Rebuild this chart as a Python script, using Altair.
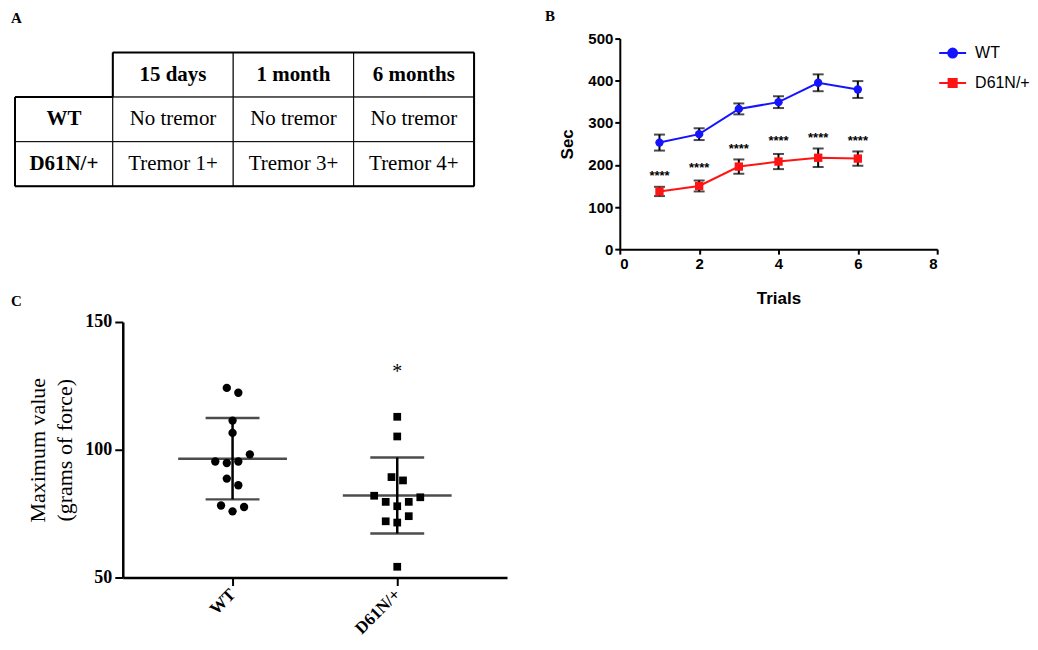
import json
import altair as alt
import pandas as pd

SERIF = "Liberation Serif"
SANS = "Liberation Sans"

# ---------------- Panel A: tremor table ----------------
timepoints = ["15 days", "1 month", "6 months"]
genotypes = ["WT", "D61N/+"]
tremor_wt = ["No tremor", "No tremor", "No tremor"]
tremor_mut = ["Tremor 1+", "Tremor 3+", "Tremor 4+"]

# ---------------- Panel B: rotarod ----------------
trials = [1, 2, 3, 4, 5, 6]
wt_sec = [253, 273, 333, 349, 395, 379]
wt_sem = [19, 14, 13, 14, 20, 20]
mut_sec = [137, 150, 196, 208, 217, 215]
mut_sem = [11, 13, 17, 18, 22, 17]
sig_text = ["****", "****", "****", "****", "****", "****"]
sig_sec = [180, 200, 245, 263, 272, 263]

# ---------------- Panel C: grip strength ----------------
force_groups = ["WT", "D61N/+"]
wt_force = [124.2, 122.3, 111.4, 106.6, 98.2, 95.4, 94.8, 95.4, 88.7, 86.1, 78.2, 77.6, 75.9]
wt_slot = [-0.5, 0.5, 0, 0, 1.5, -1.5, -0.5, 0.5, -0.5, 0.5, -1, 1, 0]
mut_force = [112.9, 105.2, 89.3, 88.0, 82.0, 81.4, 79.6, 79.6, 77.9, 74.0, 72.0, 71.5, 54.2]
mut_slot = [0, 0, -0.5, 0.5, -2, 2, -1, 1, 0, 1, -1, 0, 0]
sig_c_group = ["D61N/+"]
sig_c_label = ["*"]
sig_c_force = [132]

palette = {"WT": "#1414ff", "D61N/+": "#ff1414"}


def panel_title(text, dx, offset):
    return alt.TitleParams(text, anchor="start", frame="group", dx=dx, offset=offset,
                           font=SERIF, fontSize=15, fontWeight="bold", color="black")


# ===== Panel A =====
cells = []
for j, t in enumerate(timepoints):
    cells.append({"r": 0, "c": j + 1, "label": t, "head": True})
for i, (g, row) in enumerate(zip(genotypes, [tremor_wt, tremor_mut])):
    cells.append({"r": i + 1, "c": 0, "label": g, "head": True})
    for j, v in enumerate(row):
        cells.append({"r": i + 1, "c": j + 1, "label": v, "head": False})
cell_df = pd.DataFrame(cells)
n_rows = 1 + len(genotypes)
n_cols = 1 + len(timepoints)
border_df = pd.DataFrame([
    {"x": 1, "x2": n_cols, "y": 0, "y2": 0},
    {"x": 1, "x2": 1, "y": 0, "y2": 1},
    {"x": 0, "x2": 1, "y": 1, "y2": 1},
    {"x": 0, "x2": 0, "y": 1, "y2": n_rows},
    {"x": 0, "x2": n_cols, "y": n_rows, "y2": n_rows},
    {"x": n_cols, "x2": n_cols, "y": 0, "y2": n_rows},
])
# the table view shares its left edge with panel C's plot; the table itself starts further left
xs_a = alt.Scale(domain=[0, 1, n_cols], range=[-108, -10, 352])
ys_a = alt.Scale(domain=[0, n_rows], range=[14, 148])

cellbase = alt.Chart(cell_df).transform_calculate(
    c2="datum.c + 1", r2="datum.r + 1", cm="datum.c + 0.5", rm="datum.r + 0.5")
rects = cellbase.mark_rect(fill="white", stroke="black", strokeWidth=1).encode(
    x=alt.X("c:Q", scale=xs_a, axis=None), x2="c2:Q",
    y=alt.Y("r:Q", scale=ys_a, axis=None), y2="r2:Q")
borders = alt.Chart(border_df).mark_rule(color="black", strokeWidth=2).encode(
    x=alt.X("x:Q", scale=xs_a, axis=None), x2="x2:Q",
    y=alt.Y("y:Q", scale=ys_a, axis=None), y2="y2:Q")
head_txt = cellbase.transform_filter("datum.head").mark_text(
    font=SERIF, fontSize=21, fontWeight="bold", color="black", baseline="middle").encode(
    x=alt.X("cm:Q", scale=xs_a, axis=None), y=alt.Y("rm:Q", scale=ys_a, axis=None), text="label:N")
body_txt = cellbase.transform_filter("!datum.head").mark_text(
    font=SERIF, fontSize=21, color="black", baseline="middle").encode(
    x=alt.X("cm:Q", scale=xs_a, axis=None), y=alt.Y("rm:Q", scale=ys_a, axis=None), text="label:N")
panel_a = alt.layer(rects, borders, head_txt, body_txt).properties(
    width=352, height=148, title=panel_title("A", -112, 13))

# ===== Panel B =====
b_df = pd.DataFrame({
    "trial": trials + trials,
    "genotype": ["WT"] * len(trials) + ["D61N/+"] * len(trials),
    "sec": wt_sec + mut_sec,
    "sem": wt_sem + mut_sem,
})
sig_df = pd.DataFrame({"trial": trials, "sec": sig_sec, "label": sig_text})

axis_b_common = dict(domainColor="black", domainWidth=2, tickColor="black", tickWidth=2, tickSize=5,
                     labelFont=SANS, labelFontWeight="bold", labelFontSize=15, labelColor="black",
                     titleFont=SANS, titleFontWeight="bold", titleFontSize=17, titleColor="black",
                     grid=False)


def bx(field):
    return alt.X(field, scale=alt.Scale(domain=[0, 8], nice=False, zero=False, padding=0),
                 axis=alt.Axis(values=[0, 2, 4, 6, 8], title="Trials", titlePadding=19,
                               labelPadding=2, **axis_b_common))


def by(field):
    return alt.Y(field, scale=alt.Scale(domain=[0, 500], nice=False, padding=0),
                 axis=alt.Axis(values=[0, 100, 200, 300, 400, 500], title="Sec", titlePadding=11,
                               labelPadding=2, **axis_b_common))


bbase = alt.Chart(b_df).transform_calculate(lo="datum.sec - datum.sem", hi="datum.sec + datum.sem")
b_lines = [bbase.transform_filter(alt.datum.genotype == g).mark_line(
    color=palette[g], strokeWidth=2).encode(x=bx("trial:Q"), y=by("sec:Q")) for g in genotypes]
b_err = bbase.mark_rule(color="black", strokeWidth=2).encode(x=bx("trial:Q"), y=by("lo:Q"), y2="hi:Q")
b_cap_lo = bbase.mark_tick(orient="horizontal", size=11, thickness=2, color="black").encode(
    x=bx("trial:Q"), y=by("lo:Q"))
b_cap_hi = bbase.mark_tick(orient="horizontal", size=11, thickness=2, color="black").encode(
    x=bx("trial:Q"), y=by("hi:Q"))
b_pts_wt = bbase.transform_filter(alt.datum.genotype == "WT").mark_point(
    shape="circle", filled=True, size=70, opacity=1, color=palette["WT"]).encode(
    x=bx("trial:Q"), y=by("sec:Q"))
b_pts_mut = bbase.transform_filter(alt.datum.genotype == "D61N/+").mark_point(
    shape="square", filled=True, size=70, opacity=1, color=palette["D61N/+"]).encode(
    x=bx("trial:Q"), y=by("sec:Q"))
b_sig = alt.Chart(sig_df).mark_text(font=SANS, fontWeight="bold", fontSize=13, color="black",
                                    baseline="alphabetic", dy=7).encode(
    x=bx("trial:Q"), y=by("sec:Q"), text="label:N")

path_wt = "M-1,0H1M-0.33,0A0.33,0.33,0,1,0,0.33,0A0.33,0.33,0,1,0,-0.33,0Z"
path_mut = "M-1,0H1M-0.3,-0.3H0.3V0.3H-0.3Z"
leg = alt.Legend(title=None, orient="right", offset=0, padding=0, symbolSize=729, symbolStrokeWidth=2,
                 labelFont=SANS, labelFontSize=16, labelColor="black", labelOffset=8, rowPadding=7)
color_scale = alt.Scale(domain=genotypes, range=[palette[g] for g in genotypes])
b_legend = alt.Chart(b_df).transform_filter("false").mark_point(filled=True, opacity=1).encode(
    x=bx("trial:Q"), y=by("sec:Q"),
    fill=alt.Fill("genotype:N", scale=color_scale, legend=leg),
    stroke=alt.Stroke("genotype:N", scale=color_scale, legend=leg),
    shape=alt.Shape("genotype:N", scale=alt.Scale(domain=genotypes, range=[path_wt, path_mut]), legend=leg),
)
panel_b = alt.layer(*b_lines, b_err, b_cap_lo, b_cap_hi, b_pts_wt, b_pts_mut, b_sig, b_legend).properties(
    width=318, height=211, title=panel_title("B", -75, 8))

# ===== Panel C =====
c_df = pd.DataFrame({
    "group": ["WT"] * len(wt_force) + ["D61N/+"] * len(mut_force),
    "force": wt_force + mut_force,
    "slot": wt_slot + mut_slot,
})
sigc_df = pd.DataFrame({"group": sig_c_group, "label": sig_c_label, "force": sig_c_force})
groups_js = json.dumps(force_groups)
gi_expr = f"indexof({groups_js}, datum.group) + 1"

axis_c_common = dict(domainColor="black", domainWidth=2.5, tickColor="black", tickWidth=2, tickSize=8,
                     labelFont=SERIF, labelFontWeight="bold", labelColor="black", grid=False)


def cx(field):
    return alt.X(field, scale=alt.Scale(domain=[1 / 3, 8 / 3], nice=False, zero=False, padding=0),
                 axis=alt.Axis(values=[1, 2], labelExpr=f"{groups_js}[datum.value - 1]", title=None,
                               labelAngle=-45, labelAlign="right", labelBaseline="middle",
                               labelFontSize=17, labelPadding=6, **axis_c_common))


def cy(field):
    return alt.Y(field, scale=alt.Scale(domain=[50, 150], nice=False, zero=False, padding=0),
                 axis=alt.Axis(values=[50, 100, 150], title=["Maximum value", "(grams of force)"],
                               titleFont=SERIF, titleFontSize=22, titleFontWeight="normal",
                               titleColor="black", titleLineHeight=27, titlePadding=8,
                               labelFontSize=18, labelPadding=3, **axis_c_common))


cbase = alt.Chart(c_df).transform_calculate(gi=gi_expr).transform_calculate(xp="datum.gi + datum.slot * 0.07")
c_wt = cbase.transform_filter(alt.datum.group == "WT").mark_point(
    shape="circle", filled=True, size=70, opacity=1, color="black").encode(x=cx("xp:Q"), y=cy("force:Q"))
c_mut = cbase.transform_filter(alt.datum.group == "D61N/+").mark_point(
    shape="square", filled=True, size=60, opacity=1, color="black").encode(x=cx("xp:Q"), y=cy("force:Q"))
summ = alt.Chart(c_df).transform_aggregate(
    mean="mean(force)", sd="stdev(force)", groupby=["group"]).transform_calculate(
    gi=gi_expr, lo="datum.mean - datum.sd", hi="datum.mean + datum.sd")
c_mean = summ.mark_tick(orient="horizontal", size=109, thickness=2.5, color="black").encode(
    x=cx("gi:Q"), y=cy("mean:Q"))
c_lo = summ.mark_tick(orient="horizontal", size=54, thickness=2.5, color="black").encode(
    x=cx("gi:Q"), y=cy("lo:Q"))
c_hi = summ.mark_tick(orient="horizontal", size=54, thickness=2.5, color="black").encode(
    x=cx("gi:Q"), y=cy("hi:Q"))
c_bar = summ.mark_rule(strokeWidth=2.5, color="black").encode(x=cx("gi:Q"), y=cy("lo:Q"), y2="hi:Q")
c_sig = alt.Chart(sigc_df).transform_calculate(gi=gi_expr).mark_text(
    font=SERIF, fontSize=20, color="black", baseline="alphabetic", dy=10).encode(
    x=cx("gi:Q"), y=cy("force:Q"), text="label:N")
panel_c = alt.layer(c_bar, c_lo, c_hi, c_mean, c_wt, c_mut, c_sig).properties(
    width=385, height=256, title=panel_title("C", -112, 4))

# ===== Layout =====
left_col = alt.vconcat(panel_a, panel_c, spacing=107)
chart = alt.hconcat(left_col, panel_b, spacing=38).properties(
    padding={"left": 3, "top": 0, "right": 0, "bottom": 0},
    background="white",
).configure_view(stroke=None)

chart.save("out.html", embed_options={"renderer": "svg", "actions": False})
